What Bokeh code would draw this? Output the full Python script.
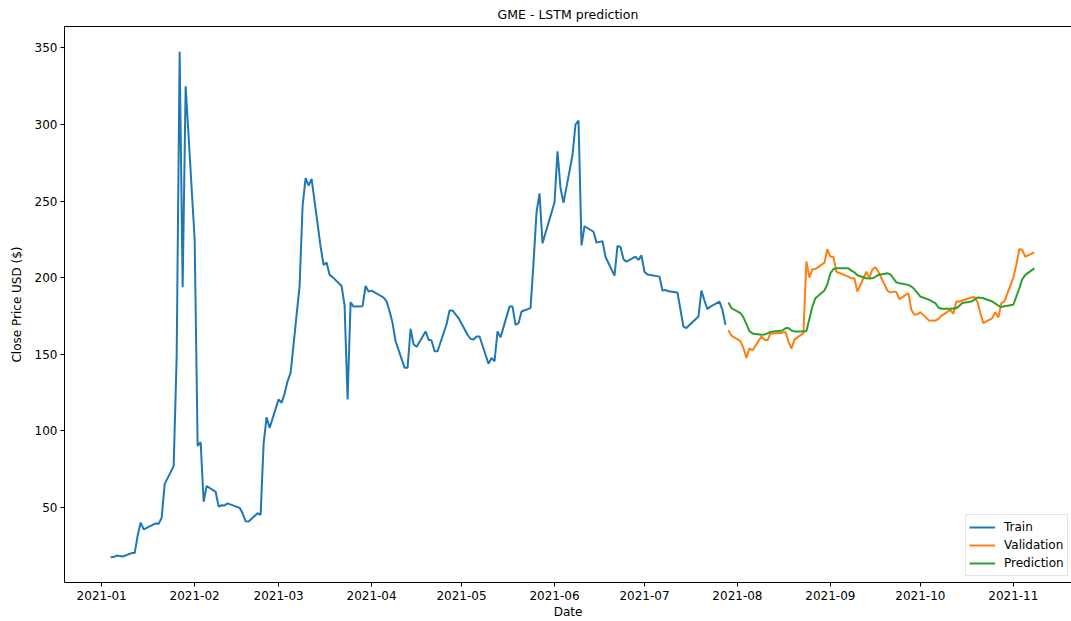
import pandas as pd
from bokeh.plotting import figure
from bokeh.models import (FixedTicker, DatetimeTickFormatter, DatetimeAxis, Legend,
                          LegendItem, ColumnDataSource, Range1d)
from bokeh.embed import file_html
from bokeh.resources import INLINE

# NYSE holidays falling inside the charted period
holidays = ["2021-01-18", "2021-02-15", "2021-04-02", "2021-05-31",
            "2021-07-05", "2021-09-06"]

# Closing prices used for training (2021-01-04 .. 2021-07-28)
train_close = [
    # Jan
    17.25, 17.37, 18.36, 18.08, 17.69, 19.94, 19.95, 31.40, 39.91, 35.50,
    39.36, 39.12, 43.03, 65.01, 76.79, 147.98, 347.51, 193.60, 325.00,
    # Feb
    225.00, 90.00, 92.41, 53.50, 63.77, 60.00, 50.31, 51.20, 51.10, 52.40,
    49.51, 45.94, 40.69, 40.59, 46.00, 44.97, 91.71, 108.73, 101.74,
    # Mar
    120.40, 118.18, 124.18, 132.35, 137.74, 194.50, 246.90, 265.00, 260.00,
    264.50, 220.14, 208.17, 209.81, 201.75, 200.27, 194.49, 181.75, 120.34,
    183.75, 181.00, 181.30, 194.46, 190.82,
    # Apr
    191.45, 186.95, 184.50, 177.97, 170.26, 158.36, 141.09, 140.99, 166.53,
    156.44, 154.69, 164.8, 159.4, 158.9, 151.8, 151.8, 169.5, 178.5, 178.5,
    176.0, 173.5,
    # May
    162.6, 160.0, 159.5, 161.5, 161.5, 143.7, 147.5, 145.3, 164.8, 160.9,
    181.0, 181.0, 169.1, 170.2, 177.8, 180.0, 209.4, 242.6, 255.0, 222.5,
    # Jun
    249.0, 282.5, 258.5, 248.8, 280.0, 300.0, 302.6, 221.0, 233.5, 229.9,
    222.8, 223.3, 223.8, 213.6, 201.2, 220.6, 220.0, 212.0, 210.4, 213.6,
    211.5, 214.5,
    # Jul
    203.8, 202.0, 200.6, 191.5, 191.9, 191.0, 190.2, 179.0, 168.0, 167.0,
    169.0, 174.5, 191.5, 185.0, 179.4, 181.0, 184.3, 178.9, 169.1,
]

# Held-out closing prices (2021-07-29 .. 2021-11-08)
valid_close = [
    165.5, 162.0,
    158.5, 154.0, 147.5, 153.8, 152.3, 161.5, 159.4, 159.0, 163.4, 163.5,
    164.0, 164.5, 158.3, 153.5, 159.4, 163.7, 210.5, 200.0, 205.4, 205.5,
    209.7, 218.5,
    213.6, 213.6, 203.8, 200.6, 199.5, 199.5, 190.8, 203.8, 199.5, 205.4,
    206.7, 203.8, 191.5, 190.2, 190.8, 190.5, 185.9, 189.8, 178.9, 175.7,
    176.0,
    177.4, 171.7, 172.0, 171.8, 173.0, 175.0, 178.9, 176.3, 184.3, 184.3,
    185.0, 187.0, 187.3, 184.3, 176.8, 170.2, 173.5, 177.4, 173.9, 183.3,
    184.3,
    200.0, 208.2, 218.6, 218.0, 213.6, 216.5,
]

# LSTM output over the same held-out days
pred_close = [
    183.7, 180.0,
    176.8, 174.0, 169.5, 165.0, 163.5, 162.6, 162.8, 163.5, 164.4, 164.8,
    165.4, 166.8, 167.0, 165.4, 164.8, 164.8, 165.0, 173.0, 181.0, 186.5,
    191.5, 195.6,
    202.8, 205.5, 206.0, 206.0, 204.5, 203.4, 201.5, 199.5, 199.3, 199.5,
    200.5, 201.7, 202.8, 202.1, 199.5, 196.9, 196.3, 195.2, 194.1, 192.5,
    190.0,
    187.6, 185.4, 184.3, 183.3, 180.4, 179.6, 179.6, 179.8, 180.0, 181.5,
    183.3, 184.3, 185.5, 187.0, 186.8, 186.5, 184.3, 183.0, 181.7, 180.7,
    181.2,
    182.2, 187.5, 193.0, 199.0, 201.7, 206.0,
]

month_ticks = ["2021-01-01", "2021-02-01", "2021-03-01", "2021-04-01",
               "2021-05-01", "2021-06-01", "2021-07-01", "2021-08-01",
               "2021-09-01", "2021-10-01", "2021-11-01"]
price_ticks = [50, 100, 150, 200, 250, 300, 350]

bday = pd.offsets.CustomBusinessDay(holidays=holidays)
train_dates = pd.date_range("2021-01-04", periods=len(train_close), freq=bday)
valid_dates = pd.date_range(train_dates[-1] + bday, periods=len(valid_close), freq=bday)

train_src = ColumnDataSource(dict(date=train_dates, close=train_close))
valid_src = ColumnDataSource(dict(date=valid_dates, close=valid_close, pred=pred_close))

# 5% padding around the data, as in a default pyplot figure; the right side
# of the axes box runs a little past the page edge.
first, last = train_dates[0], valid_dates[-1]
span = last - first
x_start = first - 0.05 * span
x_end = x_start + (span * 1.1) * (1007 / 1016)
all_vals = train_close + valid_close + pred_close
lo, hi = min(all_vals), max(all_vals)
y_start, y_end = lo - 0.05 * (hi - lo), hi + 0.05 * (hi - lo)

FONT = "DejaVu Sans"
FS = "12px"

p = figure(width=1071, height=621, x_axis_type="datetime",
           output_backend="svg", toolbar_location=None,
           x_range=Range1d(x_start, x_end), y_range=Range1d(y_start, y_end),
           min_border_left=64, min_border_right=0, min_border_top=24,
           min_border_bottom=38)
p.outline_line_color = None
p.xgrid.visible = False
p.ygrid.visible = False
p.background_fill_color = "white"
p.border_fill_color = "white"

p.title.text = "GME - LSTM prediction"
p.title.align = "center"
p.title.offset = 4
p.title.text_font = FONT
p.title.text_font_size = "12.5px"
p.title.text_font_style = "normal"
p.title.text_color = "black"
p.title.text_line_height = 1.0
p.title.standoff = 9

train_r = p.line("date", "close", source=train_src, line_color="#1f77b4", line_width=2)
valid_r = p.line("date", "close", source=valid_src, line_color="#ff7f0e", line_width=2)
pred_r = p.line("date", "pred", source=valid_src, line_color="#2ca02c", line_width=2)

xa = p.xaxis[0]
xa.ticker = FixedTicker(ticks=[pd.Timestamp(t).value // 10**6 for t in month_ticks])
xa.formatter = DatetimeTickFormatter(days="%Y-%m", months="%Y-%m", years="%Y-%m",
                                     hours="%Y-%m", hourmin="%Y-%m")
xa.axis_label = "Date"

ya = p.yaxis[0]
ya.ticker = FixedTicker(ticks=price_ticks)
ya.axis_label = "Close Price USD ($)"

for ax in (xa, ya):
    ax.axis_line_color = "black"
    ax.axis_line_width = 1
    ax.major_tick_line_color = "black"
    ax.major_tick_out = 4
    ax.major_tick_in = 0
    ax.minor_tick_line_color = None
    ax.major_label_text_font = FONT
    ax.major_label_text_font_size = FS
    ax.major_label_text_color = "black"
    ax.major_label_text_line_height = 1.0
    ax.major_label_standoff = 3
    ax.axis_label_text_font = FONT
    ax.axis_label_text_font_size = FS
    ax.axis_label_text_font_style = "normal"
    ax.axis_label_text_color = "black"
    ax.axis_label_text_line_height = 1.0
    ax.axis_label_standoff = 4
xa.major_label_standoff = 4
xa.axis_label_standoff = 2
ya.axis_label_standoff = 8

# top edge of the axes box
top = DatetimeAxis(ticker=FixedTicker(ticks=[]), axis_line_color="black",
                   major_tick_line_color=None, minor_tick_line_color=None,
                   major_label_text_font_size="0px")
p.add_layout(top, "above")

legend = Legend(items=[LegendItem(label="Train", renderers=[train_r]),
                       LegendItem(label="Validation", renderers=[valid_r]),
                       LegendItem(label="Prediction", renderers=[pred_r])],
                location=(901, 6), orientation="vertical",
                label_text_font=FONT, label_text_font_size=FS,
                label_text_color="black", glyph_width=26, glyph_height=18,
                label_height=18, spacing=0, padding=3, margin=0,
                label_standoff=9, border_line_color="#cccccc",
                border_line_width=1, background_fill_color="white",
                background_fill_alpha=0.8)
p.add_layout(legend)

open("out.html", "w").write(file_html(p, INLINE))
